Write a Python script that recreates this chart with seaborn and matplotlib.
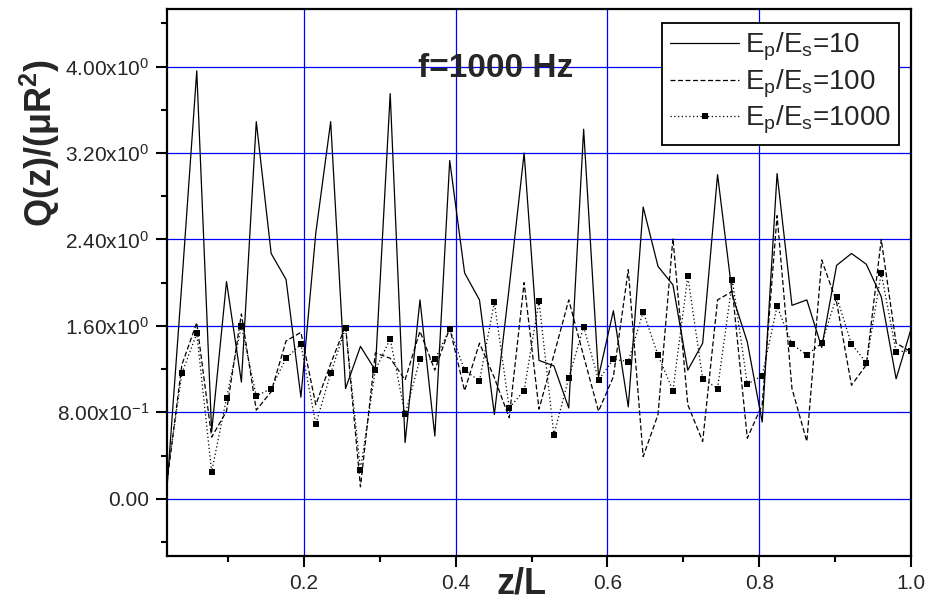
import numpy as np
import pandas as pd
import matplotlib
matplotlib.use("Agg")
import matplotlib.pyplot as plt
from matplotlib.ticker import FixedLocator, MultipleLocator
import seaborn as sns

# Axial positions z/L (51 equally spaced stations along the pile)
n_points = 51
z = np.arange(1, n_points + 1) / n_points

# Normalised load transfer Q(z)/(mu R^2) at f = 1000 Hz
q_ratio_10 = [0.10, 2.00, 3.96, 0.62, 2.01, 1.08, 3.49, 2.27, 2.03, 0.94,
              2.46, 3.49, 1.02, 1.41, 1.19, 3.75, 0.52, 1.84, 0.58, 3.13,
              2.09, 1.84, 0.78, 1.96, 3.20, 1.28, 1.23, 0.84, 3.42, 1.13,
              1.74, 0.85, 2.70, 2.15, 1.98, 1.19, 1.44, 3.00, 1.88, 1.45,
              0.71, 3.01, 1.79, 1.84, 1.40, 2.16, 2.27, 2.17, 1.87, 1.11,
              1.57]
q_ratio_100 = [0.15, 1.24, 1.63, 0.57, 0.81, 1.71, 0.82, 0.99, 1.46, 1.54,
               0.87, 1.25, 1.60, 0.11, 1.35, 1.30, 1.10, 1.55, 1.19, 1.58,
               1.00, 1.44, 1.12, 0.75, 2.00, 0.83, 1.33, 1.84, 1.32, 0.81,
               1.13, 2.12, 0.39, 0.78, 2.41, 0.87, 0.53, 1.84, 1.92, 0.56,
               0.87, 2.62, 1.02, 0.53, 2.21, 1.82, 1.05, 1.24, 2.40, 1.44,
               1.36]
q_ratio_1000 = [0.20, 1.16, 1.53, 0.25, 0.93, 1.60, 0.95, 1.02, 1.30, 1.43,
                0.69, 1.16, 1.58, 0.27, 1.19, 1.48, 0.78, 1.29, 1.29, 1.57,
                1.19, 1.09, 1.82, 0.84, 1.00, 1.83, 0.59, 1.12, 1.59, 1.10,
                1.29, 1.27, 1.73, 1.33, 1.00, 2.06, 1.11, 1.02, 2.02, 1.06,
                1.14, 1.78, 1.43, 1.33, 1.44, 1.87, 1.43, 1.26, 2.09, 1.36,
                1.37]

series_labels = [r"E$_\mathregular{p}$/E$_\mathregular{s}$=10",
                 r"E$_\mathregular{p}$/E$_\mathregular{s}$=100",
                 r"E$_\mathregular{p}$/E$_\mathregular{s}$=1000"]

x_ticks = [0.2, 0.4, 0.6, 0.8, 1.0]
x_tick_labels = ["0.2", "0.4", "0.6", "0.8", "1.0"]
y_ticks = [0.0, 0.8, 1.6, 2.4, 3.2, 4.0]
y_tick_labels = ["0.00",
                 r"$\mathregular{8.00x10^{-1}}$",
                 r"$\mathregular{1.60x10^{0}}$",
                 r"$\mathregular{2.40x10^{0}}$",
                 r"$\mathregular{3.20x10^{0}}$",
                 r"$\mathregular{4.00x10^{0}}$"]

sns.set_style("ticks")
plt.rcParams["font.family"] = ["Liberation Sans", "DejaVu Sans"]
plt.rcParams["mathtext.fontset"] = "custom"
plt.rcParams["mathtext.rm"] = "Liberation Sans"
plt.rcParams["mathtext.it"] = "Liberation Sans:italic"
plt.rcParams["mathtext.bf"] = "Liberation Sans:bold"

fig = plt.figure(figsize=(9.29, 6.03), dpi=100)
ax = fig.add_axes([167 / 929, 47 / 603, 744 / 929, 546.7 / 603])

df = pd.DataFrame({"z": z, "q10": q_ratio_10, "q100": q_ratio_100,
                   "q1000": q_ratio_1000})

sns.lineplot(data=df, x="z", y="q10", ax=ax, color="black", lw=0.9,
             label=series_labels[0])
sns.lineplot(data=df, x="z", y="q100", ax=ax, color="black", lw=0.9,
             linestyle=(0, (4, 2)), label=series_labels[1])
sns.lineplot(data=df, x="z", y="q1000", ax=ax, color="black", lw=0.9,
             linestyle=(0, (1, 2)), marker="s", markersize=4.5,
             markeredgewidth=0, markevery=slice(1, None),
             label=series_labels[2])

ax.set_xlim(1 / n_points, 1.0)
ax.set_ylim(-0.53, 4.53)

ax.xaxis.set_major_locator(FixedLocator(x_ticks))
ax.set_xticklabels(x_tick_labels)
ax.xaxis.set_minor_locator(FixedLocator([0.1, 0.3, 0.5, 0.7, 0.9]))
ax.yaxis.set_major_locator(FixedLocator(y_ticks))
ax.set_yticklabels(y_tick_labels)
ax.yaxis.set_minor_locator(MultipleLocator(0.4))

ax.tick_params(which="major", direction="out", length=8, width=1.5,
               labelsize=15, color="black", pad=5)
ax.tick_params(which="minor", direction="out", length=4.5, width=1.5,
               color="black")

for side in ["left", "right", "top", "bottom"]:
    ax.spines[side].set_visible(True)
    ax.spines[side].set_linewidth(1.6)
    ax.spines[side].set_color("black")

ax.set_axisbelow(True)
ax.grid(True, which="major", color="#0000FF", lw=0.9)

ax.set_xlabel("z/L", fontsize=26, fontweight="bold")
ax.xaxis.set_label_coords(0.476, -0.02)
ax.set_ylabel("")
fig.text(40 / 929, 1 - 143 / 603,
         r"Q(z)/($\mathregular{\mu}$R$^{\mathbf{2}}$)", fontsize=26,
         fontweight="bold", rotation=90, ha="center", va="center")

ax.text(0.3506, 3.905, "f=1000 Hz", fontsize=24, fontweight="bold",
        ha="left", va="baseline")

leg = ax.legend(loc="upper right", bbox_to_anchor=(0.9843, 0.9755),
                borderaxespad=0, fontsize=20, frameon=True, fancybox=False,
                framealpha=1, edgecolor="black", handlelength=2.5,
                handletextpad=0.2, labelspacing=0.15, borderpad=0.3,
                numpoints=1)
leg.get_frame().set_linewidth(1.3)

fig.savefig("out.png", dpi=100)
